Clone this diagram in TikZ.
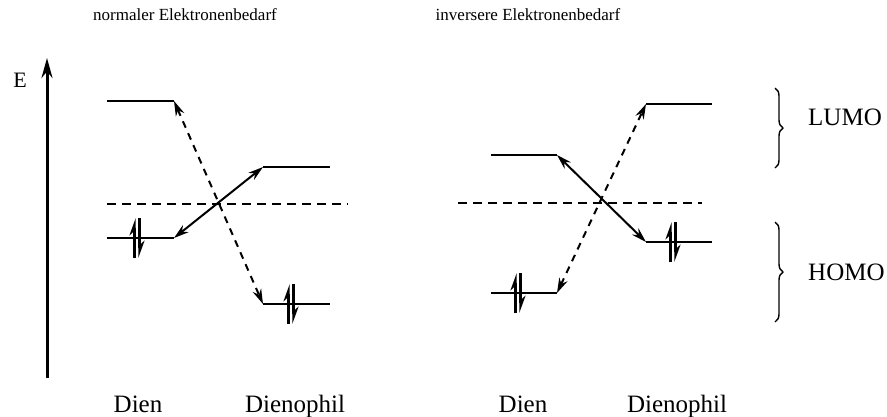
\documentclass[tikz,border=0pt]{standalone}
\usepackage{fontspec}
\setmainfont{Liberation Serif}
\usetikzlibrary{arrows.meta,decorations.pathreplacing}

% Elektronenpaar (zwei Halbpfeile) an einem Niveau
\newcommand{\elpaar}[1]{%
    \draw[spin] ([xshift=-2.5pt,yshift=-20pt]#1) -- ([xshift=-2.5pt,yshift=20pt]#1);
    \draw[spin] ([xshift=2.5pt,yshift=20pt]#1) -- ([xshift=2.5pt,yshift=-20pt]#1);
}

\begin{document}
\begin{tikzpicture}[
    x=1pt, y=-1pt,
    line join=round,
    font=\fontsize{17}{20}\selectfont,
    gross/.style={font=\fontsize{25}{28}\selectfont},
    niveau/.style={line width=2pt},
    mitte/.style={line width=2.6pt, dash pattern=on 9pt off 6pt},
    wechsel/.style={line width=2pt, {Stealth[length=15pt,width=9pt]}-{Stealth[length=15pt,width=9pt]}},
    wechseld/.style={wechsel, dash pattern=on 7pt off 6pt},
    spin/.style={line width=2.6pt, -{Stealth[left,length=14pt,width=10pt]}},
    klammer/.style={line width=1.4pt, decorate, decoration={brace, amplitude=8pt}}
]
\useasboundingbox (0,0) rectangle (887,416);

% ======================================
% Ueberschriften
% ======================================
\node (tN) at (185,15) {normaler Elektronenbedarf};
\node (tI) at (528,15) {inversere Elektronenbedarf};

% ======================================
% Energieachse
% ======================================
\coordinate (A0) at (47,378);
\coordinate (A1) at (47,58);
\draw[line width=3pt, -{Stealth[length=20pt,width=11pt]}] (A0) -- (A1);
\node[anchor=base, font=\fontsize{22}{24}\selectfont] (E) at (20,87) {E};

% ======================================
% normaler Elektronenbedarf
% ======================================
% Dien
\coordinate (dL1) at (107,101); \coordinate (dL2) at (174,101);
\coordinate (dH1) at (107,238); \coordinate (dH2) at (174,238);
% Dienophil
\coordinate (pL1) at (263,167); \coordinate (pL2) at (330,167);
\coordinate (pH1) at (263,304); \coordinate (pH2) at (330,304);

\draw[niveau] (dL1) -- (dL2);
\draw[niveau] (dH1) -- (dH2);
\draw[niveau] (pL1) -- (pL2);
\draw[niveau] (pH1) -- (pH2);

\coordinate (m1) at (107,204); \coordinate (m2) at (348,204);
\draw[mitte] (m1) -- (m2);

\draw[wechsel] (dH2) -- (pL1);
\draw[wechseld] (dL2) -- (pH1);

\coordinate (e1) at (137,238);
\coordinate (e2) at (291,304);
\elpaar{e1}
\elpaar{e2}

\node[gross, anchor=base] (n1) at (138,412) {Dien};
\node[gross, anchor=base] (n2) at (295,412) {Dienophil};

% ======================================
% inverser Elektronenbedarf
% ======================================
% Dien
\coordinate (DL1) at (491,155); \coordinate (DL2) at (557,155);
\coordinate (DH1) at (491,293); \coordinate (DH2) at (557,293);
% Dienophil
\coordinate (PL1) at (646,104); \coordinate (PL2) at (712,104);
\coordinate (PH1) at (646,242); \coordinate (PH2) at (712,242);

\draw[niveau] (DL1) -- (DL2);
\draw[niveau] (DH1) -- (DH2);
\draw[niveau] (PL1) -- (PL2);
\draw[niveau] (PH1) -- (PH2);

\coordinate (M1) at (458,203); \coordinate (M2) at (702,203);
\draw[mitte] (M1) -- (M2);

\draw[wechsel] (DL2) -- (PH1);
\draw[wechseld] (DH2) -- (PL1);

\coordinate (E1) at (518,293);
\coordinate (E2) at (673,242);
\elpaar{E1}
\elpaar{E2}

\node[gross, anchor=base] (N1) at (523,412) {Dien};
\node[gross, anchor=base] (N2) at (677,412) {Dienophil};

% ======================================
% Klammern LUMO / HOMO
% ======================================
\coordinate (bL1) at (775,88);  \coordinate (bL2) at (775,168);
\coordinate (bH1) at (775,222); \coordinate (bH2) at (775,322);
\draw[klammer] (bL1) -- (bL2);
\draw[klammer] (bH1) -- (bH2);
\node[gross, anchor=base west, inner sep=0pt] (lumo) at (808,125) {LUMO};
\node[gross, anchor=base west, inner sep=0pt] (homo) at (808,280) {HOMO};

\end{tikzpicture}
\end{document}
